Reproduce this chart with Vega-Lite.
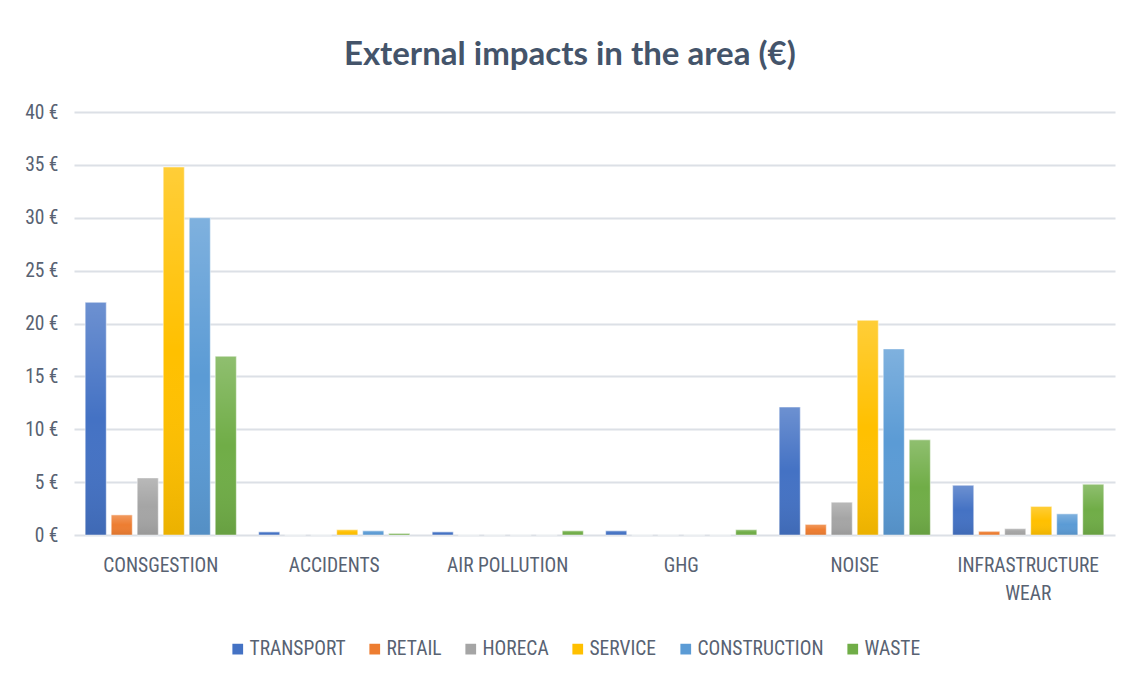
{
  "$schema": "https://vega.github.io/schema/vega-lite/v6.json",
  "autosize": "none",
  "width": 1041,
  "height": 423,
  "padding": {"left": 74, "top": 112, "right": 16, "bottom": 146},
  "background": "#ffffff",
  "title": {
    "text": "External impacts in the area (€)",
    "font": "Lato",
    "fontSize": 33,
    "fontWeight": "bold",
    "color": "#44546A",
    "anchor": "middle",
    "frame": "bounds",
    "offset": 30
  },
  "data": {
    "values": [
      {"impact": "CONSGESTION", "sector": "TRANSPORT", "value": 22.0},
      {"impact": "CONSGESTION", "sector": "RETAIL", "value": 1.9},
      {"impact": "CONSGESTION", "sector": "HORECA", "value": 5.4},
      {"impact": "CONSGESTION", "sector": "SERVICE", "value": 34.8},
      {"impact": "CONSGESTION", "sector": "CONSTRUCTION", "value": 30.0},
      {"impact": "CONSGESTION", "sector": "WASTE", "value": 16.9},
      {"impact": "ACCIDENTS", "sector": "TRANSPORT", "value": 0.3},
      {"impact": "ACCIDENTS", "sector": "RETAIL", "value": 0.0},
      {"impact": "ACCIDENTS", "sector": "HORECA", "value": 0.0},
      {"impact": "ACCIDENTS", "sector": "SERVICE", "value": 0.5},
      {"impact": "ACCIDENTS", "sector": "CONSTRUCTION", "value": 0.4},
      {"impact": "ACCIDENTS", "sector": "WASTE", "value": 0.15},
      {"impact": "AIR POLLUTION", "sector": "TRANSPORT", "value": 0.3},
      {"impact": "AIR POLLUTION", "sector": "RETAIL", "value": 0.0},
      {"impact": "AIR POLLUTION", "sector": "HORECA", "value": 0.0},
      {"impact": "AIR POLLUTION", "sector": "SERVICE", "value": 0.0},
      {"impact": "AIR POLLUTION", "sector": "CONSTRUCTION", "value": 0.0},
      {"impact": "AIR POLLUTION", "sector": "WASTE", "value": 0.4},
      {"impact": "GHG", "sector": "TRANSPORT", "value": 0.4},
      {"impact": "GHG", "sector": "RETAIL", "value": 0.0},
      {"impact": "GHG", "sector": "HORECA", "value": 0.0},
      {"impact": "GHG", "sector": "SERVICE", "value": 0.0},
      {"impact": "GHG", "sector": "CONSTRUCTION", "value": 0.0},
      {"impact": "GHG", "sector": "WASTE", "value": 0.5},
      {"impact": "NOISE", "sector": "TRANSPORT", "value": 12.1},
      {"impact": "NOISE", "sector": "RETAIL", "value": 1.0},
      {"impact": "NOISE", "sector": "HORECA", "value": 3.1},
      {"impact": "NOISE", "sector": "SERVICE", "value": 20.3},
      {"impact": "NOISE", "sector": "CONSTRUCTION", "value": 17.6},
      {"impact": "NOISE", "sector": "WASTE", "value": 9.0},
      {"impact": "INFRASTRUCTURE WEAR", "sector": "TRANSPORT", "value": 4.7},
      {"impact": "INFRASTRUCTURE WEAR", "sector": "RETAIL", "value": 0.35},
      {"impact": "INFRASTRUCTURE WEAR", "sector": "HORECA", "value": 0.6},
      {"impact": "INFRASTRUCTURE WEAR", "sector": "SERVICE", "value": 2.7},
      {"impact": "INFRASTRUCTURE WEAR", "sector": "CONSTRUCTION", "value": 2.0},
      {"impact": "INFRASTRUCTURE WEAR", "sector": "WASTE", "value": 4.8}
    ]
  },
  "encoding": {
    "x": {
      "field": "impact",
      "type": "nominal",
      "sort": null,
      "scale": {"paddingInner": 0, "paddingOuter": 0},
      "axis": {
        "title": null,
        "labelAngle": 0,
        "ticks": false,
        "domain": false,
        "labelPadding": 21,
        "labelFontSize": 19.5,
        "labelFont": "Roboto Condensed",
        "labelColor": "#586272",
        "labelLineHeight": 28,
        "labelExpr": "datum.label == 'INFRASTRUCTURE WEAR' ? ['INFRASTRUCTURE', 'WEAR'] : datum.label"
      }
    },
    "xOffset": {
      "field": "sector",
      "type": "nominal",
      "sort": ["TRANSPORT", "RETAIL", "HORECA", "SERVICE", "CONSTRUCTION", "WASTE"],
      "scale": {"paddingInner": 0.19, "paddingOuter": 0.43}
    },
    "y": {
      "field": "value",
      "type": "quantitative",
      "scale": {"domain": [0, 40], "nice": false},
      "axis": {
        "title": null,
        "values": [0, 5, 10, 15, 20, 25, 30, 35, 40],
        "labelExpr": "datum.value + ' €'",
        "ticks": false,
        "domain": false,
        "labelPadding": 16,
        "labelFontSize": 19.5,
        "labelFont": "Roboto Condensed",
        "labelColor": "#586272",
        "gridColor": "#DCE0E6",
        "gridWidth": 2
      }
    }
  },
  "layer": [
    {
      "mark": {"type": "bar", "stroke": "#ffffff", "strokeOpacity": 0.5, "strokeWidth": 1},
      "encoding": {
        "color": {
          "field": "sector",
          "type": "nominal",
          "sort": ["TRANSPORT", "RETAIL", "HORECA", "SERVICE", "CONSTRUCTION", "WASTE"],
          "scale": {
            "domain": ["TRANSPORT", "RETAIL", "HORECA", "SERVICE", "CONSTRUCTION", "WASTE"],
            "range": ["#4472C4", "#ED7D31", "#A5A5A5", "#FFC000", "#5B9BD5", "#70AD47"]
          },
          "legend": {
            "title": null,
            "orient": "none",
            "direction": "horizontal",
            "legendX": 154,
            "legendY": 527,
            "symbolType": "square",
            "symbolSize": 115,
            "symbolStrokeWidth": 0,
            "labelFontSize": 19.5,
            "labelFont": "Roboto Condensed",
            "labelColor": "#586272",
            "labelOffset": 2,
            "columnPadding": 19
          }
        }
      }
    },
    {
      "mark": {
        "type": "bar",
        "fill": {
          "gradient": "linear",
          "x1": 0, "y1": 0, "x2": 0, "y2": 1,
          "stops": [
            {"offset": 0, "color": "rgba(255,255,255,0.22)"},
            {"offset": 0.5, "color": "rgba(255,255,255,0)"},
            {"offset": 1, "color": "rgba(0,0,0,0.08)"}
          ]
        }
      }
    }
  ],
  "config": {
    "view": {"stroke": null}
  }
}
